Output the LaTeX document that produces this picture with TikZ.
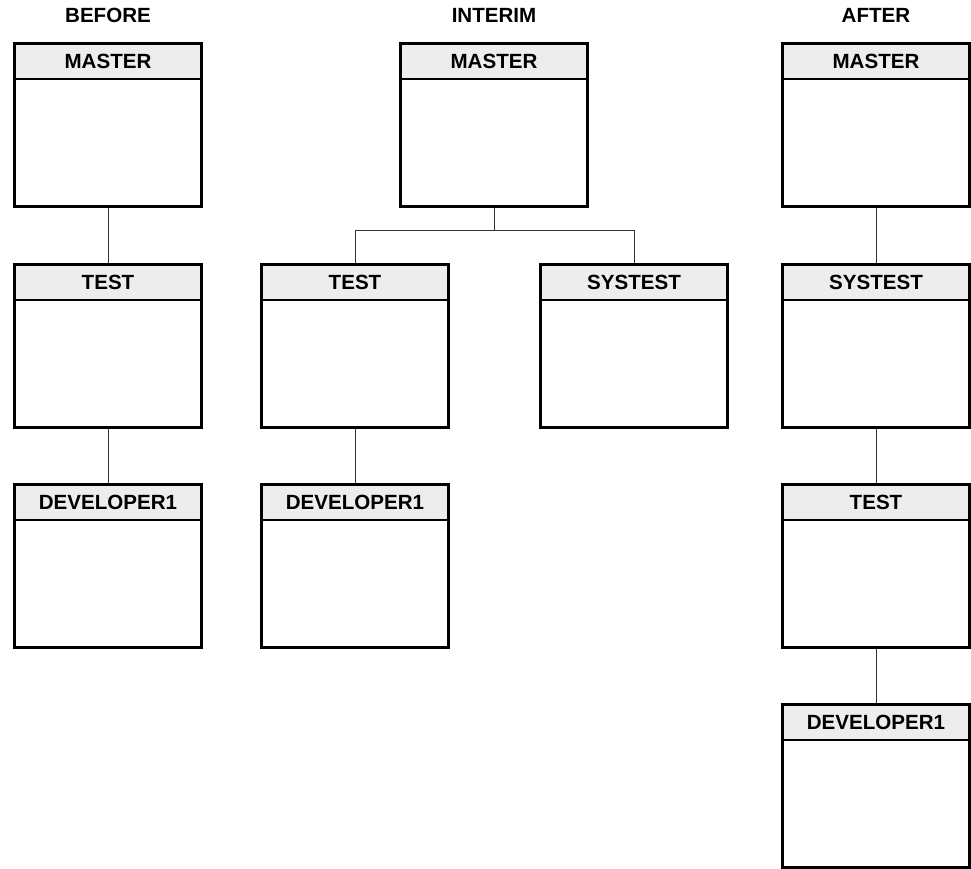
\documentclass[tikz,border=0pt]{standalone}
\usepackage{fontspec}
\setmainfont{Liberation Sans}
\usepackage{tikz}
\usetikzlibrary{calc}
\definecolor{hdrgray}{HTML}{EDEDED}

\begin{document}
\begin{tikzpicture}[x=0.02cm,y=-0.02cm,
  ttl/.style={font=\bfseries\fontsize{11.7}{13}\selectfont},
  blk/.style={draw,line width=1.7pt,minimum width=3.76cm,inner sep=0pt,
    text height=0.5cm,text depth=2.78cm,font=\bfseries\fontsize{11.7}{13}\selectfont,
    path picture={
      \fill[hdrgray] (path picture bounding box.north west) rectangle ([yshift=-0.72cm]path picture bounding box.north east);
      \draw[line width=0.6pt] ([yshift=-0.72cm]path picture bounding box.north west) -- ([yshift=-0.72cm]path picture bounding box.north east);}},
  link/.style={line width=0.55pt,black!80}]
  \useasboundingbox (0,0) rectangle (971,869);
  % titles
  \node[ttl] (t1) at (108,15) {BEFORE};
  \node[ttl] (t2) at (494,15) {INTERIM};
  \node[ttl] (t3) at (876,15) {AFTER};
  % before
  \node[blk] (bm) at (108,125) {MASTER};
  \node[blk] (bt) at (108,346) {TEST};
  \node[blk] (bd) at (108,566) {DEVELOPER1};
  % interim
  \node[blk] (im) at (494,125) {MASTER};
  \node[blk] (it) at (355,346) {TEST};
  \node[blk] (is) at (634,346) {SYSTEST};
  \node[blk] (id) at (355,566) {DEVELOPER1};
  \coordinate (ij) at (494,230);
  % after
  \node[blk] (am) at (876,125) {MASTER};
  \node[blk] (as) at (876,346) {SYSTEST};
  \node[blk] (at) at (876,566) {TEST};
  \node[blk] (ad) at (876,786) {DEVELOPER1};
  \draw[link] (bm)--(bt);
  \draw[link] (bt)--(bd);
  \draw[link] (im.south)--(ij) -| (it.north);
  \draw[link] (ij) -| (is.north);
  \draw[link] (it)--(id);
  \draw[link] (am)--(as);
  \draw[link] (as)--(at);
  \draw[link] (at)--(ad);
\end{tikzpicture}
\end{document}
